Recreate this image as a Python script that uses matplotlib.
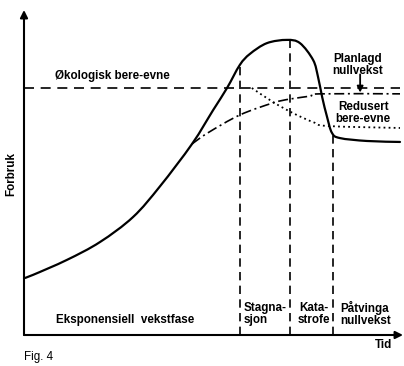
import matplotlib
matplotlib.use("Agg")
import matplotlib.pyplot as plt
from matplotlib.path import Path
from matplotlib.patches import PathPatch
import numpy as np

plt.rcParams['font.family'] = ['Liberation Sans', 'DejaVu Sans']

# Data (time 0..100, consumption 0..100)
forbruk_t = [0, 2.4, 11.4, 20.2, 29.0, 36.2, 44.7, 50.3, 54.0, 57.4, 60.1, 64.6,
             69.9, 73.4, 76.9, 78.2, 79.3, 80.6, 81.9, 84.0, 91.2, 100]
forbruk_v = [17.5, 18.5, 23.1, 28.6, 36.3, 45.8, 58.8, 69.2, 76.0, 83.1, 86.5, 89.8,
             90.8, 89.8, 84.6, 79.4, 73.2, 67.1, 62.2, 60.6, 59.7, 59.4]
bereevne_v = 76.0
planlagd_t = [44.7, 48.9, 57.4, 66.2, 70.7, 76.1, 78.7, 100]
planlagd_v = [58.8, 62.2, 67.7, 71.4, 72.6, 73.5, 74.2, 74.2]
redusert_t = [60.6, 66.2, 71.5, 76.9, 80.9, 100]
redusert_v = [76.0, 71.7, 68.3, 65.5, 64.3, 63.7]
fase_grenser = [57.4, 70.7, 82.2]


def smooth_path(xs, ys, ax):
    """Catmull-Rom through the points, drawn as cubic Bezier segments (in display space)."""
    pts = ax.transData.transform(np.column_stack([xs, ys]))
    n = len(pts)
    verts = [pts[0]]
    codes = [Path.MOVETO]
    for i in range(n - 1):
        p0 = pts[i - 1] if i > 0 else pts[i]
        p1 = pts[i]
        p2 = pts[i + 1]
        p3 = pts[i + 2] if i + 2 < n else pts[i + 1]
        c1 = p1 + (p2 - p0) / 6.0
        c2 = p2 - (p3 - p1) / 6.0
        verts += [c1, c2, p2]
        codes += [Path.CURVE4] * 3
    return Path(np.array(verts), codes)


fig = plt.figure(figsize=(4.04, 3.66), dpi=100)
ax = fig.add_axes([24/404, 31/366, 376/404, 325/366])
ax.set_xlim(0, 100)
ax.set_ylim(0, 100)
ax.axis('off')

# axes with arrows
for tip in [(0, 1.0), (379/376, 0)]:
    ax.annotate('', xy=tip, xytext=(0, 0), xycoords='axes fraction',
                arrowprops=dict(arrowstyle='-|>', lw=1.5, color='black', mutation_scale=11,
                                shrinkA=0, shrinkB=0), annotation_clip=False)


def draw_smooth(xs, ys, lw, dashes=None):
    p = PathPatch(smooth_path(xs, ys, ax), facecolor='none', edgecolor='black', lw=lw,
                  transform=None, joinstyle='round',
                  capstyle='round' if dashes is None else 'butt')
    if dashes is not None:
        p.set_linestyle((0, dashes))
    fig.add_artist(p)


# main curve
draw_smooth(forbruk_t, forbruk_v, 1.6)

# carrying capacity
l, = ax.plot([0, 100], [bereevne_v, bereevne_v], color='black', lw=1.2, clip_on=False)
l.set_dashes([6, 4])

# planned zero growth (dash-dot)
draw_smooth(planlagd_t, planlagd_v, 1.2, dashes=[6, 2.2, 1.2, 2.2])

# reduced carrying capacity (dotted)
draw_smooth(redusert_t, redusert_v, 1.3, dashes=[1.0, 1.8])

# phase boundaries
for xb in fase_grenser:
    top = np.interp(xb, forbruk_t, forbruk_v)
    l, = ax.plot([xb, xb], [0, top], color='black', lw=1.2)
    l.set_dashes([5, 3.2])

fs = 8.4
fw = 'bold'
ax.text(8.2, 79.7, 'Økologisk bere-evne', fontsize=fs, weight=fw, ha='left', va='center')
ax.text(88.8, 83.1, 'Planlagd\nnullvekst', fontsize=fs, weight=fw, ha='center',
        va='center', linespacing=1.0)
ax.annotate('', xy=(89.4, 74.6), xytext=(89.4, 80.2),
            arrowprops=dict(arrowstyle='-|>', lw=1.3, color='black', mutation_scale=9,
                            shrinkA=0, shrinkB=0))
ax.text(90.2, 68.3, 'Redusert\nbere-evne', fontsize=fs, weight=fw, ha='center',
        va='center', linespacing=0.95)
ax.text(26.9, 4.6, 'Eksponensiell  vekstfase', fontsize=fs, weight=fw, ha='center',
        va='center')
ax.text(58.5, 6.5, 'Stagna-\nsjon', fontsize=fs, weight=fw, ha='left', va='center',
        linespacing=1.0)
ax.text(72.9, 6.5, 'Kata-\nstrofe', fontsize=fs, weight=fw, ha='left', va='center',
        linespacing=1.0, multialignment='center')
ax.text(84.0, 6.5, 'Påtvinga\nnullvekst', fontsize=fs, weight=fw, ha='left', va='center',
        linespacing=1.0)
ax.text(95.5, -3.1, 'Tid', fontsize=fs, weight=fw, ha='center', va='center', clip_on=False)

fig.text(11/404, 1 - 174/366, 'Forbruk', fontsize=fs, weight=fw, rotation=90,
         ha='center', va='center')
fig.text(24/404, 1 - 357/366, 'Fig. 4', fontsize=fs, ha='left', va='center')

fig.savefig('out.png', dpi=100)
